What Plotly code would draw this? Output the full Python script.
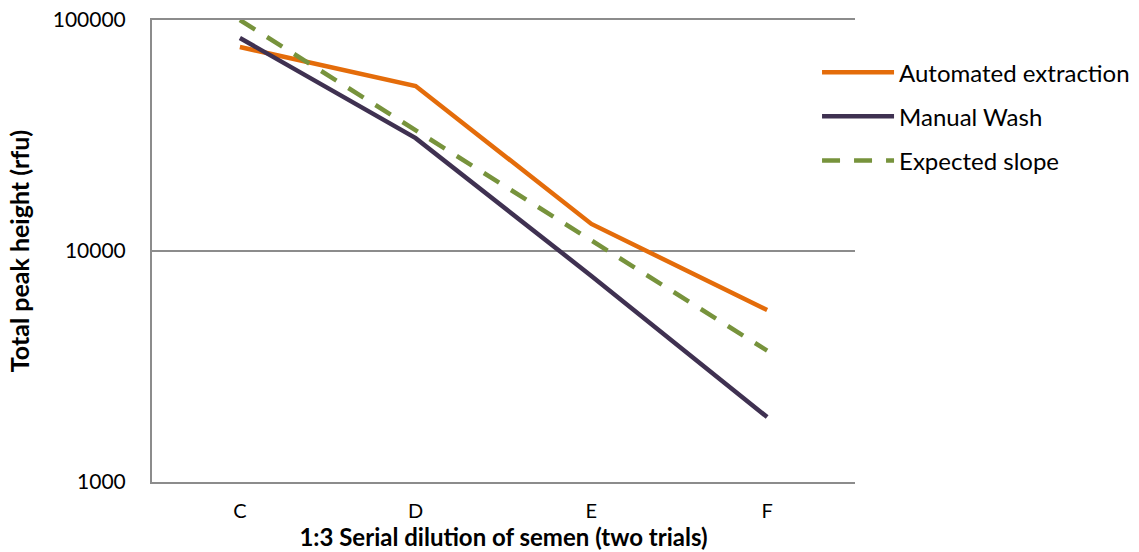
import plotly.graph_objects as go

categories = ["C", "D", "E", "F"]
automated = [76400, 51800, 13100, 5550]
manual = [83600, 30800, 7800, 1910]
expected = [100000, 33333, 11111, 3704]
y_ticks = [1000, 10000, 100000]
y_tick_labels = ["1000", "10000", "100000"]

FONT = "Lato, Calibri, Carlito, sans-serif"

fig = go.Figure()
fig.add_trace(go.Scatter(x=categories, y=automated, mode="lines", name="Automated extraction",
                         legendgroup="a", line=dict(color="#E46C0A", width=4.5)))
fig.add_trace(go.Scatter(x=categories, y=manual, mode="lines", name="Manual Wash",
                         legendgroup="m", line=dict(color="#3F3151", width=4.5)))
fig.add_trace(go.Scatter(x=categories, y=expected, mode="lines", name="Expected slope",
                         legendgroup="e", line=dict(color="#77933C", width=4.5, dash="18px,14px")))

fig.update_layout(
    width=1139, height=552,
    margin=dict(l=152, r=284, t=20, b=70, autoexpand=False),
    paper_bgcolor="white", plot_bgcolor="white",
    font=dict(family=FONT, size=21, color="black"),
    showlegend=True,
    legend=dict(x=0.946, y=0.935, xanchor="left", yanchor="top",
                font=dict(size=24), traceorder="grouped", tracegroupgap=10,
                itemwidth=72, bgcolor="rgba(0,0,0,0)"),
    xaxis=dict(type="category", range=[-0.5, 3.5], showgrid=False, automargin=False,
               showline=True, linecolor="#8C8C8C", linewidth=2, ticks="",
               mirror=True,
               tickfont=dict(size=20), ticklabelstandoff=10,
               title=dict(text="<b>1:3 Serial dilution of semen (two trials)</b>",
                          font=dict(size=24), standoff=3)),
    yaxis=dict(type="log", range=[3, 5], tickvals=y_ticks, ticktext=y_tick_labels,
               showgrid=True, gridcolor="#8C8C8C", gridwidth=1.5, automargin=False,
               showline=True, linecolor="#8C8C8C", linewidth=2, ticks="",
               tickfont=dict(size=21), ticklabelstandoff=20,
               title=dict(text="<b>Total peak height (rfu)</b>", font=dict(size=25), standoff=16)),
)

fig.write_html("out.html")
